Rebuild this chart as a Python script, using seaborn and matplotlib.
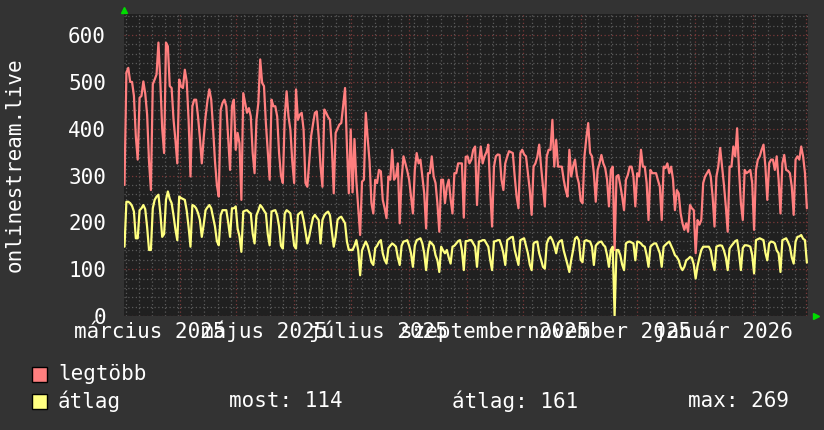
import numpy as np
import pandas as pd
import seaborn as sns
import matplotlib.pyplot as plt
import matplotlib.dates as mdates
import matplotlib.transforms as mtransforms
from matplotlib.patches import Rectangle

# daily values (2025-03-02 .. 2026-03-01)
legtobb = [
    280, 520, 530, 500, 500, 470, 384, 334, 466, 470,
    501, 475, 430, 330, 269, 495, 505, 516, 584, 500,
    400, 348, 584, 576, 491, 487, 420, 376, 326, 505,
    490, 487, 526, 501, 419, 298, 448, 462, 462, 426,
    380, 326, 380, 426, 460, 484, 462, 400, 330, 280,
    255, 440, 455, 462, 448, 380, 312, 448, 462, 355,
    391, 369, 248, 476, 455, 434, 444, 426, 348, 305,
    419, 455, 548, 498, 491, 412, 350, 291, 462, 448,
    448, 426, 348, 300, 284, 426, 480, 426, 398, 330,
    284, 484, 419, 430, 434, 398, 284, 276, 330, 384,
    410, 434, 437, 384, 319, 276, 441, 434, 425, 419,
    362, 262, 391, 400, 409, 412, 450, 487, 362, 262,
    398, 264, 378, 288, 230, 173, 287, 291, 434, 380,
    330, 241, 219, 291, 284, 312, 309, 248, 230, 209,
    298, 291, 355, 291, 298, 326, 198, 291, 341, 326,
    310, 291, 255, 219, 312, 348, 326, 334, 298, 262,
    187, 305, 305, 341, 298, 284, 240, 180, 291, 291,
    241, 276, 291, 250, 219, 305, 305, 326, 326, 326,
    210, 340, 341, 326, 334, 355, 362, 237, 326, 362,
    326, 341, 350, 366, 269, 191, 319, 341, 345, 344,
    291, 269, 326, 340, 352, 350, 348, 298, 255, 230,
    348, 355, 345, 341, 305, 269, 216, 319, 326, 340,
    366, 319, 276, 234, 341, 355, 355, 419, 319, 376,
    319, 319, 319, 291, 270, 255, 355, 298, 320, 334,
    300, 284, 246, 241, 341, 380, 412, 348, 341, 305,
    244, 312, 326, 344, 326, 316, 291, 234, 312, 319,
    141, 298, 301, 280, 255, 226, 291, 301, 319, 319,
    298, 234, 305, 298, 355, 319, 319, 284, 205, 312,
    305, 305, 305, 290, 276, 205, 319, 316, 326, 305,
    319, 291, 226, 269, 262, 220, 198, 184, 198, 180,
    237, 230, 226, 134, 205, 195, 205, 284, 298, 305,
    312, 298, 255, 191, 298, 319, 359, 319, 280, 234,
    180, 319, 319, 362, 341, 401, 312, 241, 205, 312,
    305, 308, 312, 284, 184, 312, 334, 341, 355, 366,
    319, 248, 326, 334, 334, 312, 341, 291, 219, 326,
    344, 312, 310, 305, 276, 216, 334, 341, 334, 362,
    341, 305, 230,
]
atlag = [
    148, 244, 244, 241, 235, 223, 166, 166, 226, 230,
    237, 228, 190, 141, 141, 230, 248, 255, 259, 220,
    169, 175, 248, 266, 250, 241, 215, 185, 162, 255,
    252, 250, 248, 225, 190, 148, 237, 235, 230, 220,
    205, 169, 195, 226, 232, 237, 230, 210, 191, 160,
    151, 215, 226, 226, 226, 200, 169, 230, 230, 234,
    187, 170, 137, 223, 225, 226, 222, 219, 176, 155,
    215, 225, 237, 232, 225, 219, 175, 151, 223, 225,
    226, 215, 191, 150, 144, 219, 226, 223, 219, 184,
    150, 144, 216, 220, 223, 205, 180, 155, 170, 191,
    210, 216, 210, 205, 155, 205, 215, 220, 223, 215,
    180, 148, 170, 205, 210, 212, 205, 198, 159, 141,
    141, 141, 150, 162, 140, 87, 140, 150, 159, 150,
    134, 115, 109, 145, 150, 158, 162, 134, 120, 112,
    145, 150, 155, 152, 148, 125, 109, 150, 159, 160,
    162, 150, 134, 105, 150, 162, 164, 166, 155, 134,
    98, 140, 159, 155, 150, 130, 119, 94, 148, 140,
    134, 141, 125, 112, 148, 150, 155, 160, 162, 140,
    98, 160, 160, 162, 162, 155, 148, 105, 159, 160,
    162, 162, 155, 148, 120, 98, 159, 160, 162, 162,
    150, 134, 109, 162, 165, 168, 169, 141, 125, 109,
    162, 164, 166, 150, 134, 110, 98, 155, 158, 159,
    134, 120, 105, 101, 155, 165, 169, 162, 150, 134,
    155, 160, 162, 140, 125, 110, 94, 120, 141, 165,
    169, 162, 120, 115, 160, 162, 160, 159, 148, 109,
    150, 155, 158, 159, 152, 148, 130, 105, 141, 148,
    1, 141, 141, 130, 110, 98, 155, 158, 159, 157,
    155, 119, 159, 158, 155, 150, 148, 130, 105, 148,
    152, 155, 155, 145, 134, 105, 148, 152, 156, 159,
    150, 141, 130, 126, 119, 105, 98, 105, 119, 122,
    126, 124, 110, 80, 107, 125, 141, 148, 148, 148,
    148, 140, 115, 98, 148, 150, 151, 150, 140, 125,
    98, 144, 150, 155, 160, 162, 135, 98, 145, 151,
    151, 150, 148, 130, 91, 162, 164, 166, 164, 162,
    135, 119, 155, 159, 158, 155, 140, 134, 94, 162,
    164, 166, 158, 148, 125, 112, 159, 169, 170, 173,
    165, 162, 114,
]

first_point = '2025-03-02 08:30'
last_point = '2026-03-01 11:30'
view_start = '2025-03-02 02:00'
view_end = '2026-03-02 02:00'

label_months = ['2025-03-01', '2025-05-01', '2025-07-01', '2025-09-01', '2025-11-01', '2026-01-01']
month_labels = ['március 2025', 'május 2025', 'július 2025', 'szeptember 2025', 'november 2025', 'január 2026']
y_ticks = [0, 100, 200, 300, 400, 500, 600]

series_names = ['legtöbb', 'átlag']
series_colors = ['#ff7f7f', '#ffff80']
stat_labels = ['most: 114', 'átlag: 161', 'max: 269']

df = pd.DataFrame({
    'ido': pd.date_range(first_point, last_point, periods=len(legtobb)),
    'legtöbb': legtobb,
    'átlag': atlag,
})

sns.set_theme(style='dark')
plt.rcParams['font.family'] = ['DejaVu Sans Mono', 'DejaVu Sans']
bg = '#333333'
plot_bg = '#202020'
grid_col = '#5a5a5a'
mgrid_col = '#7a3838'
txt = '#ffffff'
fs = 15

fig = plt.figure(figsize=(8.24, 4.30), dpi=100, facecolor=bg)
ax = fig.add_axes([124 / 824, 114 / 430, 684 / 824, 302 / 430])
ax.set_facecolor(plot_bg)

for name, col in zip(series_names, series_colors):
    sns.lineplot(data=df, x='ido', y=name, color=col, lw=1.6, ax=ax, zorder=3)

ax.set_xlim(pd.Timestamp(view_start), pd.Timestamp(view_end))
ax.set_ylim(0, 645)

ax.xaxis.set_major_locator(mdates.MonthLocator())
ax.xaxis.set_minor_locator(mdates.WeekdayLocator(byweekday=mdates.MO))
ax.set_yticks(y_ticks)
ax.yaxis.set_minor_locator(plt.MultipleLocator(20))

ax.grid(which='minor', color=grid_col, ls=(0, (1, 2)), lw=0.9, zorder=1)
ax.grid(which='major', color=mgrid_col, ls=(0, (1, 2)), lw=0.9, zorder=2)
ax.set_axisbelow(True)

ax.set_xticklabels([])
ax.tick_params(axis='x', which='both', length=2, color=grid_col)
ax.tick_params(axis='y', which='both', length=2, color=grid_col, labelcolor=txt, labelsize=fs, pad=11)
for s in ax.spines.values():
    s.set_visible(False)
ax.set_xlabel('')
ax.set_ylabel('')

# month labels sit in the middle of a 30 day slot, like rrdtool does
tr = mtransforms.blended_transform_factory(ax.transData, ax.transAxes)
for m, lab in zip(label_months, month_labels):
    xpos = mdates.date2num(pd.Timestamp(m) + pd.Timedelta(days=15))
    ax.text(xpos, -0.052, lab, transform=tr, ha='center', va='center',
            color=txt, fontsize=fs, clip_on=False)

# little green arrows at the axis ends
ax.plot([0], [1.013], marker='^', color='#00dd00', ms=4, transform=ax.transAxes, clip_on=False)
ax.plot([1.011], [0], marker='>', color='#00dd00', ms=4, transform=ax.transAxes, clip_on=False)

fig.text(15 / 824, 1 - 165 / 430, 'onlinestream.live', rotation=90, ha='center', va='center',
         color=txt, fontsize=fs)

# legend
rows_y = [374, 401]
for yy, name, col in zip(rows_y, series_names, series_colors):
    fig.add_artist(Rectangle((32 / 824, 1 - (yy + 8) / 430), 15 / 824, 15 / 430,
                             transform=fig.transFigure, facecolor=col, edgecolor='black', lw=1))
    fig.text(58 / 824, 1 - yy / 430, name, ha='left', va='center', color=txt, fontsize=fs)
for xx, lab in zip([229, 452, 688], stat_labels):
    fig.text(xx / 824, 1 - rows_y[1] / 430, lab, ha='left', va='center', color=txt, fontsize=fs)

fig.savefig('out.png', dpi=100, facecolor=bg)
